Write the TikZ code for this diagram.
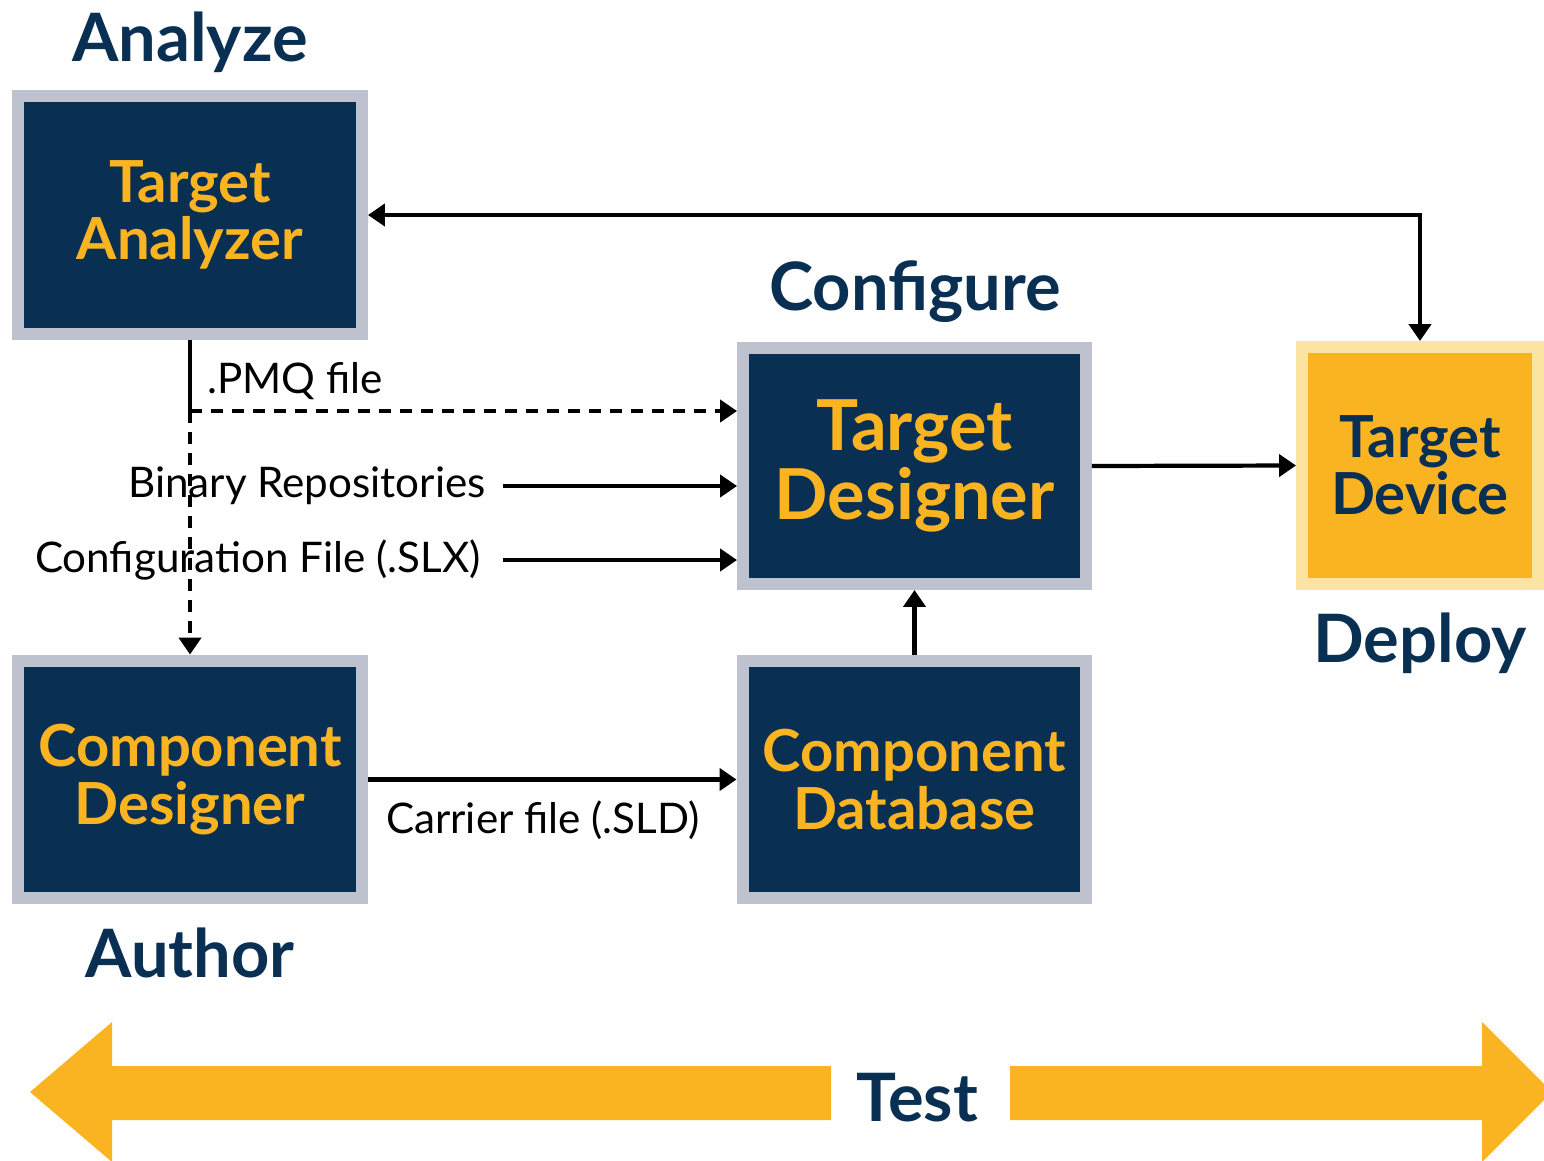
\documentclass[tikz,border=0pt]{standalone}
\usepackage{fontspec}
\setmainfont{Lato}
\usepackage{tikz}
\usetikzlibrary{arrows.meta}

\definecolor{navy}{RGB}{9,48,82}
\definecolor{gold}{RGB}{251,180,33}
\definecolor{frame}{RGB}{190,193,206}
\definecolor{paleframe}{RGB}{251,228,162}

\begin{document}
\begin{tikzpicture}
        [
            x = 0.02cm, y = -0.02cm,
            box/.style = {draw = frame, fill = navy, line width = 0.24cm,
                text = gold, font = \bfseries\fontsize{33}{32.5}\selectfont,
                align = center, minimum width = 6.88cm, minimum height = 4.76cm},
            bigbox/.style = {box, font = \bfseries\fontsize{40}{39}\selectfont,
                minimum width = 6.86cm, minimum height = 4.72cm},
            devbox/.style = {box, draw = paleframe, fill = gold, text = navy,
                minimum width = 4.72cm, minimum height = 4.74cm},
            stage/.style = {text = navy, font = \bfseries\fontsize{38}{40}\selectfont},
            lbl/.style = {font = \fontsize{24}{26}\selectfont, inner sep = 0pt},
            flow/.style = {line width = 2.4pt, -{Triangle[length = 0.34cm, width = 0.44cm]}},
            twoway/.style = {line width = 2.4pt,
                {Triangle[length = 0.34cm, width = 0.44cm]}-{Triangle[length = 0.34cm, width = 0.44cm]}}
        ]
        \useasboundingbox (0,0) rectangle (1544,1160);

        % blocks
        \node[box] (analyzer) at (190,215) {Target\\Analyzer};
        \node[bigbox] (designer) at (914.5,466) {Target\\Designer};
        \node[devbox] (device) at (1420,465.5) {Target\\Device};
        \node[box] (compdes) at (190,779.5) {Component\\Designer};
        \node[box] (compdb) at (914.5,779.5) {Component\\Database};

        % stage names
        \node[stage] (analyze) at (190,42) {Analyze};
        \node[stage] (configure) at (915,292) {Configure};
        \node[stage] (deploy) at (1420,643) {Deploy};
        \node[stage] (author) at (190,953) {Author};
        \node[stage] (test) at (917,1098) {Test};

        % test arrow
        \fill[gold] (30,1092) -- (112,1022) -- (112,1066) -- (831,1066)
            -- (831,1120) -- (112,1120) -- (112,1162) -- cycle;
        \fill[gold] (1552,1092) -- (1482,1022) -- (1482,1066) -- (1010,1066)
            -- (1010,1120) -- (1482,1120) -- (1482,1162) -- cycle;

        % connectors
        \draw[twoway] (device.north) |- (analyzer.east);

        \coordinate (pmq) at (190,411);
        \draw[line width = 2.4pt] (analyzer.south) -- (pmq);
        \draw[flow, dash pattern = on 0.24cm off 0.18cm] (pmq) -- (pmq -| designer.west);
        \draw[flow, dash pattern = on 0.24cm off 0.18cm] (pmq) -- (compdes.north);
        \node[lbl, anchor = south west] (pmqlbl) at (207,400) {.PMQ file};

        \node[lbl, anchor = east] (binrep) at (486,486) {Binary Repositories};
        \draw[flow] ([xshift = 0.34cm]binrep.east) -- (binrep.east -| designer.west);

        \node[lbl, anchor = east] (config) at (481,560) {Configuration File (.SLX)};
        \draw[flow] ([xshift = 0.44cm]config.east) -- (config.east -| designer.west);

        \draw[flow] (designer.east) -- (device.west);
        \draw[flow] (compdb.north) -- (designer.south);

        \draw[flow] (compdes.east) -- (compdb.west);
        \node[lbl] (carrier) at (543,820) {Carrier file (.SLD)};
    \end{tikzpicture}
\end{document}
